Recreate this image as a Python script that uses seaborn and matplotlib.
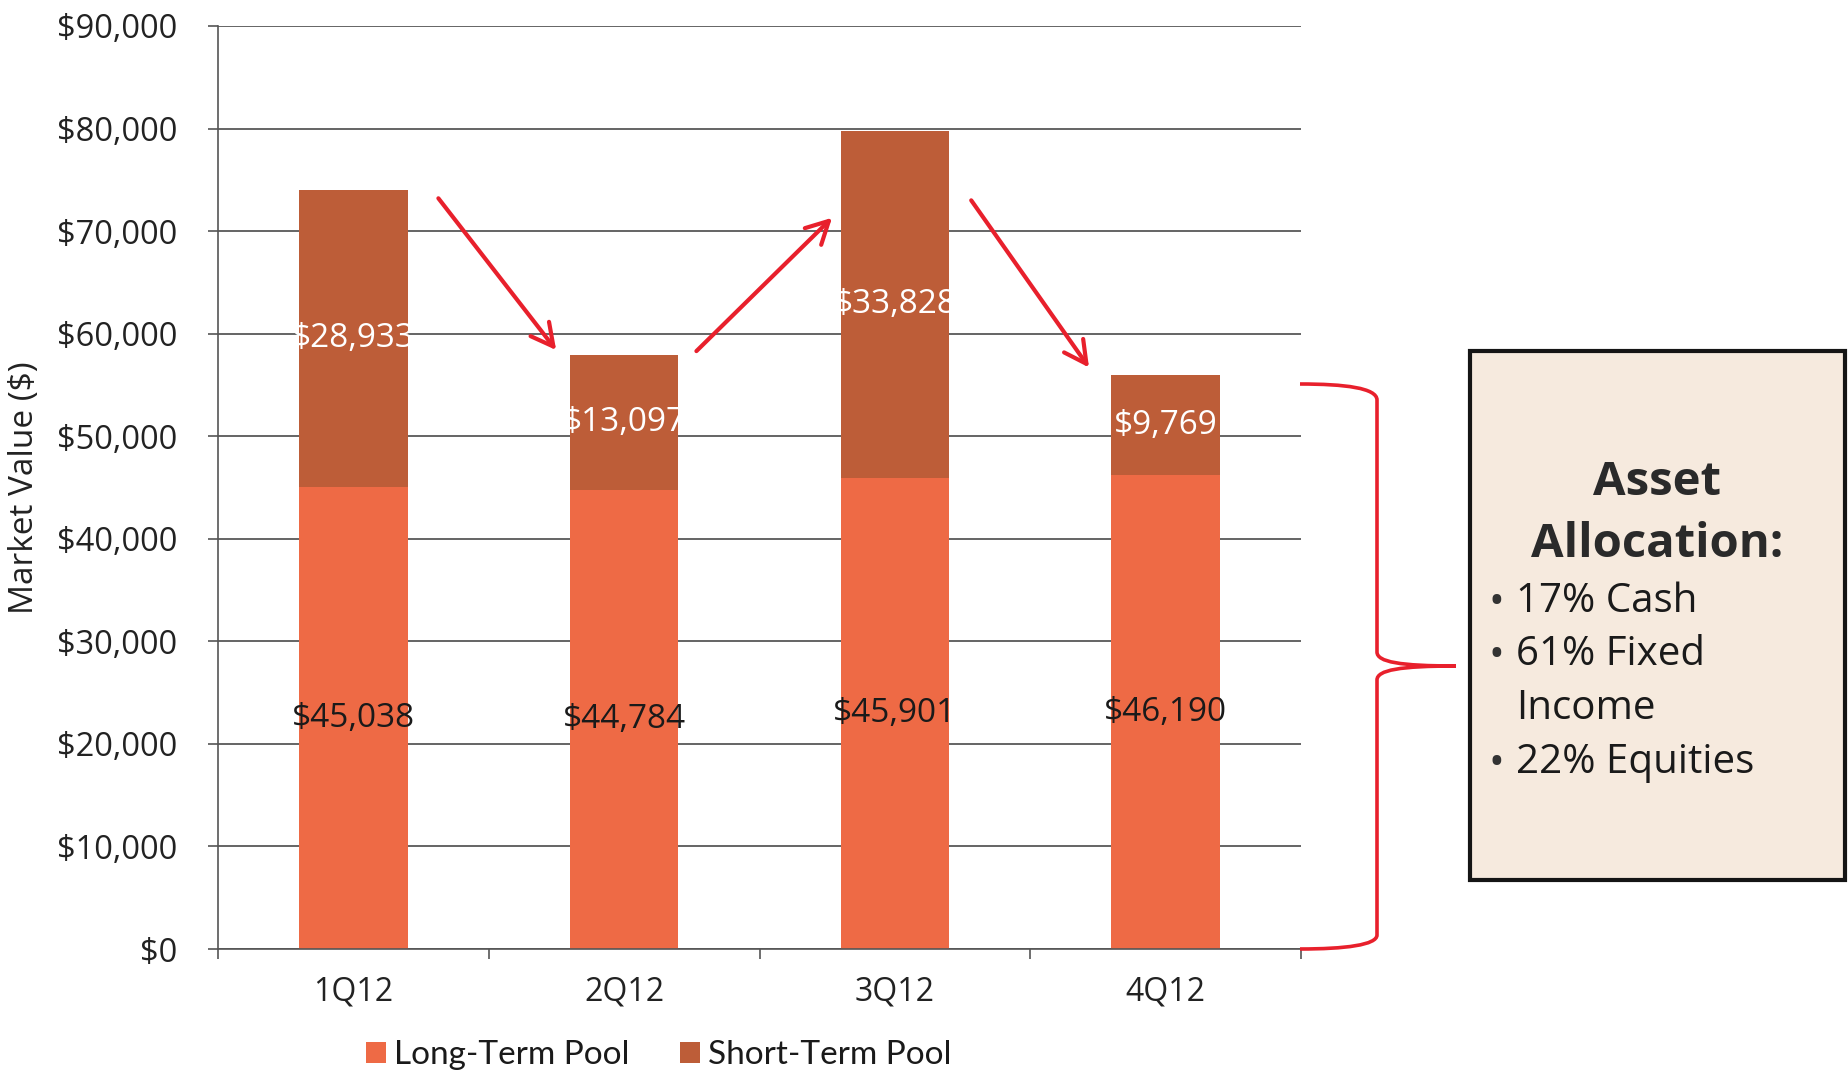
import matplotlib
matplotlib.use("Agg")
import matplotlib.pyplot as plt
from matplotlib.patches import PathPatch, Rectangle, Patch
from matplotlib.path import Path
import seaborn as sns
import pandas as pd

# Quarterly market value by pool ($)
quarters = ["1Q12", "2Q12", "3Q12", "4Q12"]
long_term = [45038, 44784, 45901, 46190]
short_term = [28933, 13097, 33828, 9769]

y_ticks = list(range(0, 90001, 10000))
allocation_title = ["Asset", "Allocation:"]
allocation_items = ["17% Cash", "61% Fixed", "Income", "22% Equities"]
allocation_bullets = [True, True, False, True]

LONG_COLOR = "#EE6A45"
SHORT_COLOR = "#BD5D38"
RED = "#E8202C"

sns.set_style("white")
plt.rcParams["font.family"] = ["Open Sans", "DejaVu Sans"]

W, H = 1848, 1075
fig = plt.figure(figsize=(W / 100, H / 100), dpi=100)
ax = fig.add_axes([218 / W, 1 - 949 / H, 1083 / W, 923 / H])

df = pd.DataFrame({"quarter": quarters, "long": long_term, "short": short_term})
df["total"] = df["long"] + df["short"]

# Stacked bars: draw the totals, then the long-term pool over them
sns.barplot(data=df, x="quarter", y="total", color=SHORT_COLOR, saturation=1,
            width=0.4, errorbar=None, ax=ax, linewidth=0)
sns.barplot(data=df, x="quarter", y="long", color=LONG_COLOR, saturation=1,
            width=0.4, errorbar=None, ax=ax, linewidth=0)

ax.set_xlim(-0.5, len(quarters) - 0.5)
ax.set_ylim(0, 90000)
ax.set_yticks(y_ticks)
ax.set_yticklabels([f"${v:,}" for v in y_ticks])
ax.set_xlabel("")
ax.set_ylabel("Market Value ($)", fontsize=24, color="#222222")
ax.yaxis.set_label_coords(-0.163, 0.5)

ax.set_axisbelow(True)
ax.yaxis.grid(True, color="#4a4a4a", linewidth=1.2)
ax.xaxis.grid(False)
for s in ["top", "right"]:
    ax.spines[s].set_visible(False)
ax.spines["left"].set_color("#555555")
ax.spines["left"].set_linewidth(1.2)
ax.spines["bottom"].set_color("#555555")
ax.spines["bottom"].set_linewidth(1.2)

ax.tick_params(axis="y", direction="out", length=7.2, width=1.2, color="#555555",
               labelsize=23.5, labelcolor="#222222", pad=22, left=True)
ax.set_xticks([i - 0.5 for i in range(len(quarters) + 1)], minor=True)
ax.tick_params(axis="x", which="major", length=0, labelsize=23,
               labelcolor="#222222", pad=19)
ax.tick_params(axis="x", which="minor", direction="out", length=7.2, width=1.2,
               color="#555555", bottom=True)

# Segment value labels at the middle of each segment
for i, (lv, sv) in enumerate(zip(long_term, short_term)):
    ax.text(i, lv / 2, f"${lv:,}", ha="center", va="center", fontsize=24,
            color="#1a1a1a")
    ax.text(i, lv + sv / 2, f"${sv:,}", ha="center", va="center", fontsize=24,
            color="white")

# Red trend arrows between quarters
arrows = [((0.314, 73200), (0.749, 58400)),
          ((1.267, 58300), (1.768, 71300)),
          ((2.282, 73000), (2.717, 56700))]
for start, end in arrows:
    ax.annotate("", xy=end, xytext=start, xycoords="data",
                arrowprops=dict(arrowstyle="->,head_length=0.8,head_width=0.42",
                                color=RED, lw=3, mutation_scale=20,
                                shrinkA=0, shrinkB=0))


def fx(x):
    return x / W


def fy(y):
    return 1 - y / H


# Curly brace spanning the latest quarter's value
brace_pts = [
    (1300, 384), (1345, 384), (1377, 388), (1377, 400),
    (1377, 652),
    (1377, 662), (1400, 666), (1456, 666),
    (1400, 666), (1377, 670), (1377, 680),
    (1377, 935),
    (1377, 945), (1345, 949), (1300, 949),
]
codes = [Path.MOVETO, Path.CURVE4, Path.CURVE4, Path.CURVE4,
         Path.LINETO,
         Path.CURVE4, Path.CURVE4, Path.CURVE4,
         Path.CURVE4, Path.CURVE4, Path.CURVE4,
         Path.LINETO,
         Path.CURVE4, Path.CURVE4, Path.CURVE4]
brace = Path([(fx(x), fy(y)) for x, y in brace_pts], codes)
fig.patches.append(PathPatch(brace, transform=fig.transFigure, facecolor="none",
                             edgecolor=RED, lw=2.6))

# Asset allocation box
fig.patches.append(Rectangle((fx(1470), fy(880)), fx(1845) - fx(1470),
                             fy(351) - fy(880), transform=fig.transFigure,
                             facecolor="#F6EADE", edgecolor="#151515", lw=3))
box_font = ["Open Sans", "DejaVu Sans"]
for txt, yb in zip(allocation_title, [495, 557]):
    fig.text(fx(1657), fy(yb), txt, ha="center", va="baseline", fontsize=34,
             fontweight="bold", color="#2a2a2a", family=box_font)
for txt, bullet, yb in zip(allocation_items, allocation_bullets, [612, 665, 719, 773]):
    if bullet:
        fig.text(fx(1489), fy(yb + 2), "•", ha="left", va="baseline", fontsize=30,
                 color="#333333", family=box_font)
    fig.text(fx(1516), fy(yb), txt, ha="left", va="baseline", fontsize=29,
             color="#1a1a1a", family=box_font)

# Legend below the chart
handles = [Patch(facecolor=LONG_COLOR, edgecolor="none", label="Long-Term Pool"),
           Patch(facecolor=SHORT_COLOR, edgecolor="none", label="Short-Term Pool")]
fig.legend(handles=handles, loc="center", bbox_to_anchor=(fx(659), fy(1055)),
           ncol=2, frameon=False, prop={"family": ["Lato", "DejaVu Sans"], "size": 24},
           handlelength=0.6, handleheight=0.6, handletextpad=0.25,
           columnspacing=1.5, labelcolor="#1a1a1a")

fig.savefig("out.png", dpi=100, facecolor="white")
